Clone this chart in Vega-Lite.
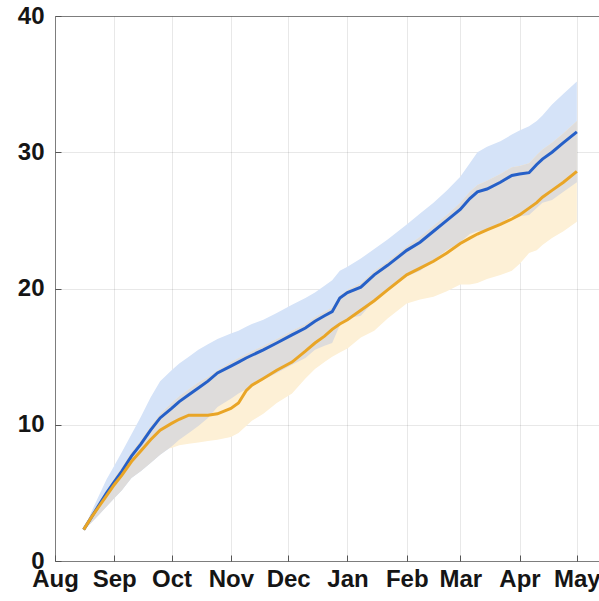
{
  "$schema": "https://vega.github.io/schema/vega-lite/v6.json",
  "autosize": {"type": "none"},
  "padding": {"left": 55, "top": 16, "right": 0, "bottom": 40},
  "width": 562,
  "height": 545,
  "background": "white",
  "view": {"stroke": "#8a8a8a", "strokeWidth": 1},
  "config": {
    "axis": {
      "labelFont": "Liberation Sans",
      "labelFontWeight": "bold",
      "labelFontSize": 24,
      "labelColor": "#151515",
      "gridColor": "#000000",
      "gridOpacity": 0.09,
      "domain": false,
      "tickColor": "#555555",
      "tickSize": -6,
      "zindex": 1,
      "title": null
    }
  },
  "data": {
    "values": [
      {"date": "2020-08-16", "blue": 2.3, "orange": 2.3, "blue_lo": 2.3, "blue_hi": 2.3, "orange_lo": 2.3, "orange_hi": 2.3},
      {"date": "2020-08-20", "blue": 3.2, "orange": 3.2, "blue_lo": 2.8, "blue_hi": 3.6, "orange_lo": 3.1, "orange_hi": 3.3},
      {"date": "2020-08-24", "blue": 4.1, "orange": 4.0, "blue_lo": 3.4, "blue_hi": 4.8, "orange_lo": 3.7, "orange_hi": 4.3},
      {"date": "2020-08-28", "blue": 5.0, "orange": 4.8, "blue_lo": 4.0, "blue_hi": 6.0, "orange_lo": 4.4, "orange_hi": 5.2},
      {"date": "2020-09-01", "blue": 5.8, "orange": 5.6, "blue_lo": 4.6, "blue_hi": 7.0, "orange_lo": 5.1, "orange_hi": 6.1},
      {"date": "2020-09-05", "blue": 6.6, "orange": 6.3, "blue_lo": 5.2, "blue_hi": 8.0, "orange_lo": 5.7, "orange_hi": 6.9},
      {"date": "2020-09-10", "blue": 7.7, "orange": 7.3, "blue_lo": 6.1, "blue_hi": 9.3, "orange_lo": 6.6, "orange_hi": 8.0},
      {"date": "2020-09-15", "blue": 8.6, "orange": 8.1, "blue_lo": 6.6, "blue_hi": 10.6, "orange_lo": 7.3, "orange_hi": 8.9},
      {"date": "2020-09-20", "blue": 9.6, "orange": 8.9, "blue_lo": 7.2, "blue_hi": 12.0, "orange_lo": 7.9, "orange_hi": 9.9},
      {"date": "2020-09-25", "blue": 10.5, "orange": 9.6, "blue_lo": 7.8, "blue_hi": 13.2, "orange_lo": 8.2, "orange_hi": 10.8},
      {"date": "2020-10-01", "blue": 11.2, "orange": 10.1, "blue_lo": 8.4, "blue_hi": 14.0, "orange_lo": 8.3, "orange_hi": 11.6},
      {"date": "2020-10-05", "blue": 11.7, "orange": 10.4, "blue_lo": 8.9, "blue_hi": 14.5, "orange_lo": 8.5, "orange_hi": 12.1},
      {"date": "2020-10-10", "blue": 12.2, "orange": 10.7, "blue_lo": 9.4, "blue_hi": 15.0, "orange_lo": 8.6, "orange_hi": 12.6},
      {"date": "2020-10-15", "blue": 12.7, "orange": 10.7, "blue_lo": 9.9, "blue_hi": 15.5, "orange_lo": 8.7, "orange_hi": 13.1},
      {"date": "2020-10-20", "blue": 13.2, "orange": 10.7, "blue_lo": 10.5, "blue_hi": 15.9, "orange_lo": 8.8, "orange_hi": 13.5},
      {"date": "2020-10-25", "blue": 13.8, "orange": 10.8, "blue_lo": 11.3, "blue_hi": 16.3, "orange_lo": 8.9, "orange_hi": 14.0},
      {"date": "2020-11-01", "blue": 14.3, "orange": 11.2, "blue_lo": 11.9, "blue_hi": 16.7, "orange_lo": 9.1, "orange_hi": 14.6},
      {"date": "2020-11-05", "blue": 14.6, "orange": 11.6, "blue_lo": 12.3, "blue_hi": 16.9, "orange_lo": 9.4, "orange_hi": 14.9},
      {"date": "2020-11-09", "blue": 14.9, "orange": 12.5, "blue_lo": 12.6, "blue_hi": 17.2, "orange_lo": 9.9, "orange_hi": 15.2},
      {"date": "2020-11-12", "blue": 15.1, "orange": 12.9, "blue_lo": 12.8, "blue_hi": 17.4, "orange_lo": 10.3, "orange_hi": 15.4},
      {"date": "2020-11-18", "blue": 15.5, "orange": 13.4, "blue_lo": 13.3, "blue_hi": 17.7, "orange_lo": 10.8, "orange_hi": 15.8},
      {"date": "2020-11-25", "blue": 16.0, "orange": 14.0, "blue_lo": 13.8, "blue_hi": 18.2, "orange_lo": 11.6, "orange_hi": 16.3},
      {"date": "2020-12-03", "blue": 16.6, "orange": 14.6, "blue_lo": 14.4, "blue_hi": 18.8, "orange_lo": 12.3, "orange_hi": 16.9},
      {"date": "2020-12-10", "blue": 17.1, "orange": 15.4, "blue_lo": 14.9, "blue_hi": 19.3, "orange_lo": 13.4, "orange_hi": 17.4},
      {"date": "2020-12-15", "blue": 17.6, "orange": 16.0, "blue_lo": 15.5, "blue_hi": 19.7, "orange_lo": 14.1, "orange_hi": 17.9},
      {"date": "2020-12-20", "blue": 18.0, "orange": 16.5, "blue_lo": 15.8, "blue_hi": 20.2, "orange_lo": 14.6, "orange_hi": 18.3},
      {"date": "2020-12-24", "blue": 18.3, "orange": 17.0, "blue_lo": 16.0, "blue_hi": 20.6, "orange_lo": 15.0, "orange_hi": 18.6},
      {"date": "2020-12-28", "blue": 19.3, "orange": 17.4, "blue_lo": 17.3, "blue_hi": 21.3, "orange_lo": 15.3, "orange_hi": 19.5},
      {"date": "2021-01-01", "blue": 19.7, "orange": 17.7, "blue_lo": 17.8, "blue_hi": 21.6, "orange_lo": 15.6, "orange_hi": 19.9},
      {"date": "2021-01-08", "blue": 20.1, "orange": 18.4, "blue_lo": 18.0, "blue_hi": 22.2, "orange_lo": 16.4, "orange_hi": 20.4},
      {"date": "2021-01-15", "blue": 21.0, "orange": 19.1, "blue_lo": 19.1, "blue_hi": 22.9, "orange_lo": 16.9, "orange_hi": 21.3},
      {"date": "2021-01-22", "blue": 21.7, "orange": 19.9, "blue_lo": 19.8, "blue_hi": 23.6, "orange_lo": 17.8, "orange_hi": 22.0},
      {"date": "2021-02-01", "blue": 22.8, "orange": 21.0, "blue_lo": 20.9, "blue_hi": 24.7, "orange_lo": 18.9, "orange_hi": 23.1},
      {"date": "2021-02-08", "blue": 23.4, "orange": 21.5, "blue_lo": 21.3, "blue_hi": 25.5, "orange_lo": 19.2, "orange_hi": 23.8},
      {"date": "2021-02-15", "blue": 24.2, "orange": 22.0, "blue_lo": 22.1, "blue_hi": 26.3, "orange_lo": 19.4, "orange_hi": 24.6},
      {"date": "2021-02-22", "blue": 25.0, "orange": 22.6, "blue_lo": 22.8, "blue_hi": 27.2, "orange_lo": 19.8, "orange_hi": 25.4},
      {"date": "2021-03-01", "blue": 25.8, "orange": 23.3, "blue_lo": 23.4, "blue_hi": 28.2, "orange_lo": 20.3, "orange_hi": 26.3},
      {"date": "2021-03-06", "blue": 26.6, "orange": 23.7, "blue_lo": 24.0, "blue_hi": 29.2, "orange_lo": 20.3, "orange_hi": 27.1},
      {"date": "2021-03-10", "blue": 27.1, "orange": 24.0, "blue_lo": 24.2, "blue_hi": 30.0, "orange_lo": 20.4, "orange_hi": 27.6},
      {"date": "2021-03-15", "blue": 27.3, "orange": 24.3, "blue_lo": 24.2, "blue_hi": 30.4, "orange_lo": 20.7, "orange_hi": 27.9},
      {"date": "2021-03-22", "blue": 27.8, "orange": 24.7, "blue_lo": 24.8, "blue_hi": 30.8, "orange_lo": 21.0, "orange_hi": 28.4},
      {"date": "2021-03-28", "blue": 28.3, "orange": 25.1, "blue_lo": 25.3, "blue_hi": 31.3, "orange_lo": 21.3, "orange_hi": 28.9},
      {"date": "2021-04-01", "blue": 28.4, "orange": 25.4, "blue_lo": 25.3, "blue_hi": 31.6, "orange_lo": 21.8, "orange_hi": 29.0},
      {"date": "2021-04-06", "blue": 28.5, "orange": 25.9, "blue_lo": 25.4, "blue_hi": 31.9, "orange_lo": 22.6, "orange_hi": 29.2},
      {"date": "2021-04-10", "blue": 29.1, "orange": 26.3, "blue_lo": 25.9, "blue_hi": 32.3, "orange_lo": 22.8, "orange_hi": 29.8},
      {"date": "2021-04-13", "blue": 29.5, "orange": 26.7, "blue_lo": 26.3, "blue_hi": 32.7, "orange_lo": 23.2, "orange_hi": 30.2},
      {"date": "2021-04-18", "blue": 30.0, "orange": 27.2, "blue_lo": 26.5, "blue_hi": 33.5, "orange_lo": 23.7, "orange_hi": 30.7},
      {"date": "2021-04-24", "blue": 30.7, "orange": 27.8, "blue_lo": 27.1, "blue_hi": 34.3, "orange_lo": 24.2, "orange_hi": 31.4},
      {"date": "2021-05-01", "blue": 31.5, "orange": 28.6, "blue_lo": 27.8, "blue_hi": 35.2, "orange_lo": 24.9, "orange_hi": 32.3}
    ]
  },
  "encoding": {
    "x": {
      "field": "date",
      "type": "temporal",
      "scale": {
        "type": "utc",
        "domain": [
          {"year": 2020, "month": 8, "date": 1, "utc": true},
          {"year": 2021, "month": 5, "date": 22, "utc": true}
        ]
      },
      "axis": {
        "format": "%b",
        "labelOverlap": false,
        "labelFlush": false,
        "labelBound": false,
        "labelPadding": 12,
        "values": [
          {"year": 2020, "month": 8, "date": 1, "utc": true},
          {"year": 2020, "month": 9, "date": 1, "utc": true},
          {"year": 2020, "month": 10, "date": 1, "utc": true},
          {"year": 2020, "month": 11, "date": 1, "utc": true},
          {"year": 2020, "month": 12, "date": 1, "utc": true},
          {"year": 2021, "month": 1, "date": 1, "utc": true},
          {"year": 2021, "month": 2, "date": 1, "utc": true},
          {"year": 2021, "month": 3, "date": 1, "utc": true},
          {"year": 2021, "month": 4, "date": 1, "utc": true},
          {"year": 2021, "month": 5, "date": 1, "utc": true}
        ]
      }
    }
  },
  "layer": [
    {
      "mark": {"type": "area", "color": "#d5e3f8", "opacity": 1},
      "encoding": {
        "y": {"field": "blue_lo", "type": "quantitative", "scale": {"domain": [0, 40], "nice": false},
          "axis": {"values": [0, 10, 20, 30, 40], "labelPadding": 17}},
        "y2": {"field": "blue_hi"}
      }
    },
    {
      "mark": {"type": "area", "color": "#fdf0d6", "opacity": 1},
      "encoding": {
        "y": {"field": "orange_lo", "type": "quantitative"},
        "y2": {"field": "orange_hi"}
      }
    },
    {
      "mark": {"type": "area", "color": "#dedcdb", "opacity": 1},
      "encoding": {
        "y": {"field": "blue_lo", "type": "quantitative"},
        "y2": {"field": "orange_hi"}
      }
    },
    {
      "mark": {"type": "line", "color": "#2660c8", "strokeWidth": 3},
      "encoding": {"y": {"field": "blue", "type": "quantitative"}}
    },
    {
      "mark": {"type": "line", "color": "#e9a526", "strokeWidth": 3},
      "encoding": {"y": {"field": "orange", "type": "quantitative"}}
    }
  ]
}
